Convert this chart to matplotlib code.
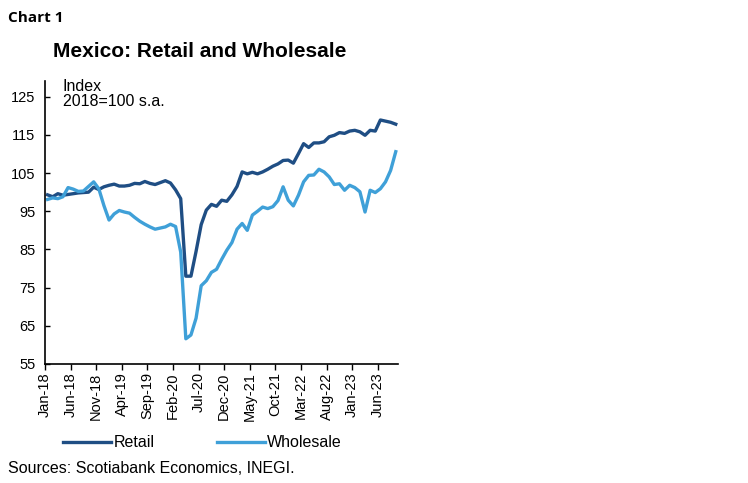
import matplotlib
matplotlib.use("Agg")
import matplotlib.pyplot as plt
import numpy as np
import pandas as pd

plt.rcParams['font.family'] = ['Liberation Sans', 'DejaVu Sans']

# monthly data, Jan-18 .. Sep-23 (index 2018=100, s.a.)
months = pd.date_range("2018-01-01", "2023-09-01", freq="MS")

retail = [99.3, 98.8, 99.6, 99.2, 99.4, 99.6, 99.8, 99.9, 100.0, 101.3,
          100.7, 101.4, 101.8, 102.1, 101.6, 101.6, 101.8, 102.3, 102.2, 102.8,
          102.3, 102.0, 102.5, 103.0, 102.4, 100.6, 98.3, 78.0, 78.0, 84.5,
          91.5, 95.3, 96.8, 96.3, 97.9, 97.6, 99.3, 101.5, 105.3, 104.8,
          105.2, 104.8, 105.3, 106.0, 106.8, 107.4, 108.3, 108.4, 107.6, 110.1,
          112.7, 111.7, 112.9, 112.9, 113.2, 114.5, 114.9, 115.6, 115.4, 116.0,
          116.2, 115.8, 114.9, 116.2, 116.0, 118.9, 118.6, 118.3, 117.8]

wholesale = [98.1, 98.5, 98.3, 98.8, 101.2, 100.8, 100.2, 100.3, 101.5, 102.7,
             100.9, 96.5, 92.7, 94.3, 95.2, 94.8, 94.5, 93.4, 92.4, 91.6,
             90.9, 90.3, 90.6, 90.9, 91.6, 91.0, 84.3, 61.6, 62.6, 67.0,
             75.5, 76.8, 79.0, 79.8, 82.4, 84.8, 86.8, 90.3, 91.8, 90.0,
             94.0, 95.0, 96.1, 95.7, 96.2, 97.8, 101.4, 97.9, 96.4, 99.2,
             102.7, 104.4, 104.5, 106.0, 105.3, 104.0, 102.0, 102.2, 100.5, 101.8,
             101.2, 100.1, 94.8, 100.5, 99.9, 100.9, 102.7, 105.7, 110.6]

tick_labels = [m.strftime("%b-%y") for m in months[::5]]

colors = ["#1f4e84", "#3fa0d8"]

fig = plt.figure(figsize=(7.48, 4.83), dpi=100)
ax = fig.add_axes([0.0602, 0.2464, 0.4723, 0.585])

x = np.arange(len(months)) + 0.5
ax.plot(x, retail, color=colors[0], linewidth=2.4, label="Retail", solid_joinstyle="round")
ax.plot(x, wholesale, color=colors[1], linewidth=2.4, label="Wholesale", solid_joinstyle="round")

ax.set_xlim(0, len(months))
ax.set_ylim(55, 129)
ax.set_yticks(np.arange(55, 126, 10))
ax.set_xticks(np.arange(0, len(months), 5))
ax.set_xticklabels(tick_labels, rotation=90, fontsize=10.5)
ax.tick_params(axis="y", length=3.5, width=1, direction="in", labelsize=10.5, pad=7)
ax.tick_params(axis="x", length=4, width=1, direction="out", pad=2)
for s in ["top", "right"]:
    ax.spines[s].set_visible(False)
for s in ["left", "bottom"]:
    ax.spines[s].set_linewidth(1.2)

ax.text(0.05, 1.01, "Index\n2018=100 s.a.", transform=ax.transAxes, fontsize=11.5,
        va="top", ha="left", linespacing=1.0)

fig.text(0.011, 0.962, "Chart 1", fontsize=11, fontweight="bold", family="Open Sans",
         va="center", ha="left")
fig.text(0.267, 0.893, "Mexico: Retail and Wholesale", fontsize=15, fontweight="bold",
         va="center", ha="center")

fig.legend(loc="center left", bbox_to_anchor=(0.065, 0.083), ncol=2, frameon=False,
           fontsize=11.5, handlelength=3.0, handletextpad=0.15, columnspacing=3.9)

fig.text(0.011, 0.031, "Sources: Scotiabank Economics, INEGI.", fontsize=11.5,
         va="center", ha="left")

fig.savefig("out.png", dpi=100)
